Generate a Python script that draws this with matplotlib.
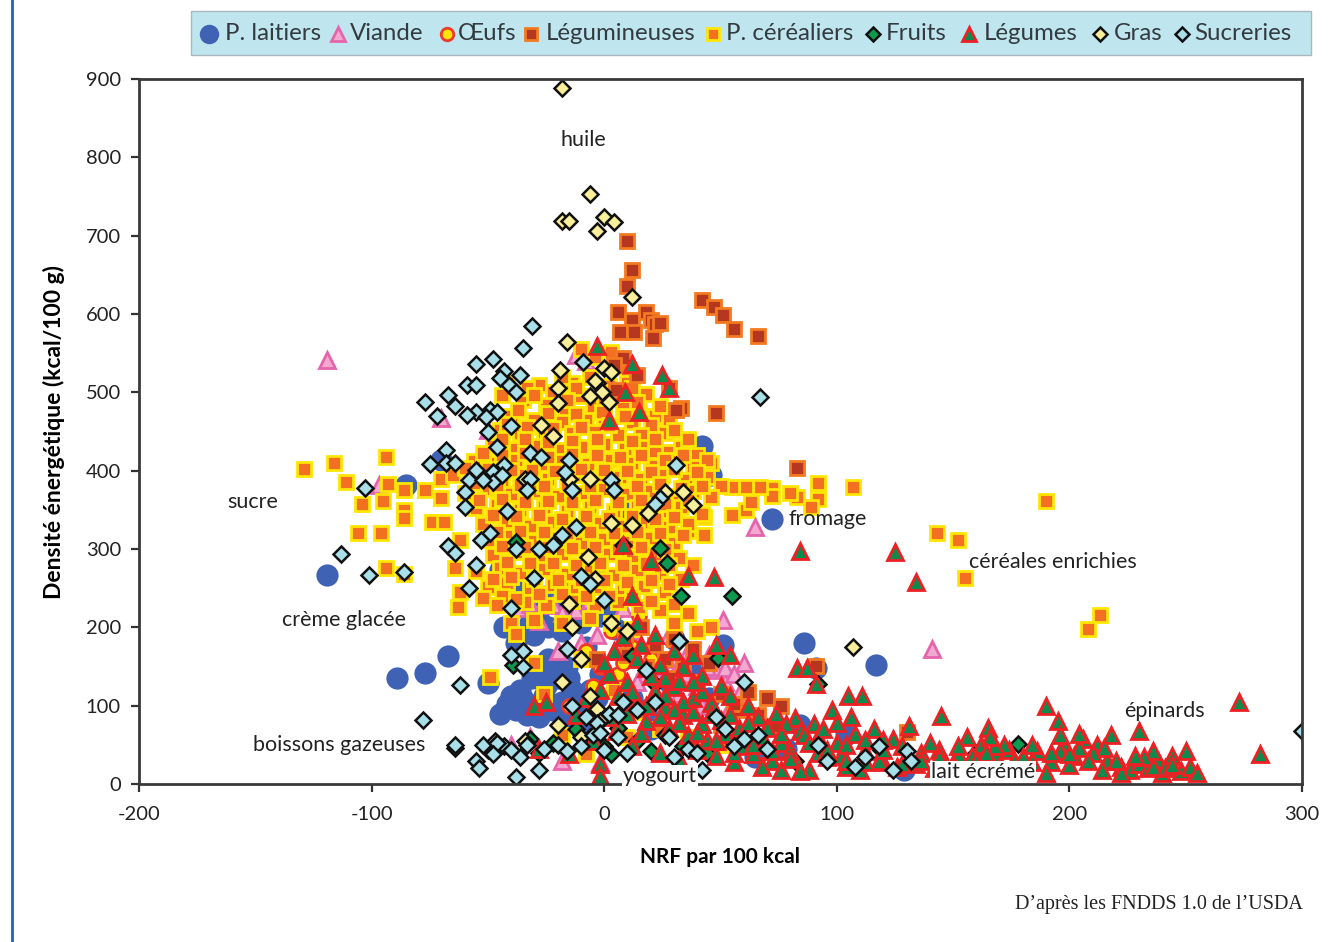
import matplotlib
matplotlib.use('Agg')
import matplotlib.pyplot as plt
from matplotlib.patches import Rectangle

plt.rcParams['axes.unicode_minus'] = False

# values, (NRF, kcal/100 g)
laitiers = [(-119,267),(-85,382),(-70,414),(42,432),(46,395),(72,338),(-67,163),(-89,135),(-77,142),(-50,129),
    (86,180),(91,148),(117,152),(129,18),(51,178),(-45,273),(-43,200),(-28,210),(-42,102),(-38,95),(-35,108),(-30,100),
    (-26,112),(-22,95),(-18,105),(-33,88),(-25,125),(-20,135),(-14,120),(-10,98),(-5,92),(-2,140),(-16,150),(-24,160),
    (-8,175),(-30,225),(-20,240),(-35,255),(9,350),(-5,325),(-15,215),(5,225),(12,110),(18,95),(28,130),(65,35),(84,75),
    (40,150),(-45,90),(-10,70),(30,185),(45,110),(-3,265),(20,70),(-20,300),(-38,180),(78,45),(104,62),
    (-40,112),(-36,120),(-31,135),(-28,148),(-22,150),(-15,135),(-12,108),(-6,120),(-3,110),(-28,85),(-18,88),(-12,80),
    (-32,205),(-24,200),(-18,195),(-10,205),(-2,215),(5,198),(-30,190),(-25,240),(-10,235)]
viande = [(-119,541),(-70,467),(65,328),(141,172),(51,209),(-12,548),(-50,452),(-97,382),(-40,340),(-33,330),(-30,320),
    (-24,305),(-16,310),(-8,315),(-37,225),(-32,230),(-22,228),(-12,222),(-28,208),(-6,235),(2,245),(8,225),(12,195),
    (22,175),(30,160),(35,140),(40,125),(48,145),(52,130),(25,150),(18,140),(38,165),(45,165),(-3,190),(-10,180),
    (-20,170),(28,190),(58,115),(54,98),(-40,50),(-18,30),(-32,60),(-2,28),(-8,540),(-48,440),(60,155),(6,170),(14,130),
    (32,115),(42,100),(-25,280),(-14,265),(-5,290),(-36,330),(-28,340),(-22,318),(-34,240),(-26,232),(-18,218),(44,150),
    (36,170),(52,148),(56,140),(30,140),(22,165)]
oeufs = [(-2,150),(6,140),(12,175),(3,195),(20,160),(-8,170),(15,215),(-15,100),(8,155),(-5,125)]
legumineuses = [(10,693),(12,656),(10,636),(42,618),(47,609),(51,599),(56,581),(66,572),(6,603),(18,602),(12,592),
    (20,592),(7,577),(13,577),(22,587),(24,589),(21,570),(8,544),(28,505),(33,480),(31,478),(48,474),(83,403),(91,151),
    (5,503),(14,522),(4,535),(9,190),(22,178),(30,185),(38,172),(45,155),(18,150),(28,135),(10,165),(62,118),(70,110),
    (76,100),(58,95),(66,88),(50,75),(74,74),(-3,160),(40,130),(130,66),(16,200),(26,160),(34,148),(50,115),(56,102)]
cereales = [(-129,402),(-116,410),(-111,386),(-94,418),(-104,358),(-106,320),(-96,320),(-94,276),(-86,268),(-95,361),
    (-93,383),(-86,375),(-86,350),(-86,340),(-77,375),(-74,334),(-69,334),(-70,390),(-70,365),(-62,312),(-64,276),
    (-62,245),(-63,226),(-49,137),(190,361),(143,320),(152,312),(155,263),(213,216),(208,198),(107,379),(92,374),
    (92,384),(92,364),(89,354),(83,366),(80,372),(72,378),(72,368),(67,379),(61,379),(55,379),(55,344),(61,350),
    (63,360),(43,341),(36,323),(43,318),(-42,512),(-28,510),(-14,512),(-6,520),(2,508),(10,515),(-22,500),(-10,495),
    (5,495),(18,498),(-35,490),(-25,484),(-17,478),(-5,482),(8,480),(15,476),(22,470),(-40,470),(-30,465),(-18,462),
    (-8,465),(0,468),(12,462),(20,458),(28,465),(-45,452),(-36,448),(-26,444),(-14,448),(-4,450),(6,446),(16,445),
    (26,448),(-48,432),(-40,428),(-30,432),(-20,426),(-10,430),(0,434),(9,428),(18,430),(27,424),(33,430),(40,420),
    (22,425),(-56,412),(-46,410),(-38,414),(-27,408),(-18,412),(-7,408),(3,414),(12,410),(20,406),(30,412),(38,405),
    (46,410),(-65,395),(-54,392),(-44,388),(-35,394),(-24,390),(-13,394),(-3,388),(7,392),(16,390),(25,394),(35,388),
    (44,392),(50,380),(-60,372),(-50,376),(-40,370),(-30,374),(-20,368),(-10,372),(0,376),(10,370),(20,374),(29,368),
    (38,374),(46,366),(-55,352),(-46,356),(-36,350),(-26,354),(-16,348),(-6,353),(4,349),(14,354),(24,348),(33,353),
    (42,345),(-52,332),(-42,336),(-32,330),(-22,334),(-12,328),(-2,333),(8,329),(18,334),(28,328),(36,332),(-50,312),
    (-40,316),(-30,310),(-20,314),(-10,308),(0,313),(10,309),(20,314),(30,308),(-48,292),(-38,296),(-28,290),(-18,294),
    (-8,288),(2,293),(12,289),(22,294),(32,288),(38,280),(-55,272),(-45,276),(-36,270),(-26,274),(-16,268),(-6,272),
    (4,267),(14,273),(24,268),(33,262),(-50,252),(-42,256),(-32,250),(-22,254),(-12,248),(-2,252),(8,247),(17,253),
    (26,245),(-52,238),(-44,240),(-34,232),(-25,228),(-14,234),(-4,228),(6,232),(15,226),(24,222),(36,218),(46,200),
    (-40,205),(-38,192),(-30,210),(-18,205),(-6,212),(3,205),(12,198),(30,205),(40,195),(-30,155),(-26,115),(-10,160),
    (-18,62),(-8,38),(-2,85),(4,120),(10,60),(16,92),(24,70),(36,60),(50,50),
    # second pass through the dense cloud
    (-10,555),(-4,545),(3,552),(10,530),(-18,520),(-33,505),(-12,505),(-2,500),(12,505),(-44,497),(-30,497),(-16,490),
    (0,488),(14,488),(24,482),(-37,478),(-24,474),(-12,472),(-1,475),(9,470),(30,452),(-42,460),(-33,456),(-22,454),
    (-10,456),(2,458),(22,440),(36,440),(-44,440),(-34,440),(-24,436),(-14,438),(-3,441),(12,438),(-52,422),(-44,420),
    (-34,422),(-24,418),(-14,421),(-3,420),(7,418),(16,420),(26,414),(34,420),(44,414),(-60,404),(-50,402),(-40,401),
    (-31,401),(-21,400),(-10,402),(0,401),(10,400),(20,398),(30,402),(40,398),(-56,384),(-46,381),(-36,382),(-26,380),
    (-16,383),(-6,380),(4,382),(14,380),(24,383),(33,378),(42,380),(-54,362),(-44,364),(-34,360),(-24,361),(-14,360),
    (-4,362),(6,360),(16,362),(26,358),(36,362),(-48,344),(-38,342),(-28,344),(-18,338),(-8,342),(2,340),(12,342),
    (22,338),(30,341),(-46,322),(-36,323),(-26,322),(-16,320),(-6,322),(4,320),(14,322),(24,320),(34,318),(-44,304),
    (-34,303),(-24,302),(-14,301),(-4,303),(6,300),(16,302),(26,300),(-42,284),(-32,282),(-22,282),(-12,280),(-2,282),
    (8,280),(18,282),(28,279),(-48,262),(-40,264),(-30,262),(-20,261),(-10,260),(0,260),(10,258),(20,260),(28,255),
    (-46,228),(-38,236),(-28,242),(-18,242),(-8,240),(2,240),(12,238),(20,234),(30,230)]
fruits = [(-38,309),(24,301),(27,282),(33,240),(55,240),(8,305),(-39,152),(12,163),(49,161),(92,128),(178,51),
    (-32,58),(-22,52),(-12,70),(-6,60),(0,48),(6,72),(14,55),(20,42),(26,62),(34,48),(44,40),(56,52),(-28,40),(3,38),
    (82,30),(118,46),(160,40),(22,128)]
legumes = [(273,105),(282,38),(230,68),(190,100),(195,80),(125,296),(134,258),(84,298),(36,266),(47,264),(-3,559),
    (12,536),(25,522),(28,505),(9,500),(15,475),(2,465),(8,305),(20,285),(12,240),(-2,25),(-2,10),(-30,100),(-25,105),
    (4,170),(8,188),(14,205),(22,190),(30,170),(38,165),(48,178),(54,165),(2,140),(10,130),(18,148),(26,135),(34,150),
    (42,138),(50,125),(-2,120),(6,112),(14,105),(22,118),(30,124),(38,110),(46,104),(54,112),(62,100),(-6,90),(2,85),
    (10,90),(18,80),(26,98),(34,88),(42,76),(50,82),(58,72),(66,85),(74,90),(82,84),(90,76),(98,95),(106,86),(100,78),
    (83,148),(87,148),(91,128),(105,112),(111,112),(131,74),(145,87),(20,108),(28,72),(36,62),(44,56),(52,64),(60,48),
    (68,60),(76,52),(84,68),(92,60),(100,52),(108,64),(116,70),(124,58),(24,40),(32,32),(40,44),(48,36),(56,28),
    (64,38),(72,30),(80,42),(88,18),(96,34),(104,22),(112,42),(120,28),(128,48),(136,40),(144,44),(152,38),(156,60),
    (162,50),(165,72),(168,38),(174,44),(180,34),(186,42),(192,28),(198,46),(202,36),(206,58),(212,50),(216,30),
    (218,62),(222,22),(226,18),(230,26),(234,20),(238,30),(240,14),(244,36),(248,16),(252,22),(255,14),(236,42),
    (250,42),(241,20),(232,34),(222,14),(215,46),(210,40),(200,24),(196,42),(190,14),(178,18),(170,24),(160,22),
    (150,26),(142,20),(134,25),(126,22),(118,30),(110,18),(102,36),(92,40),(84,16),(76,18),(68,22),(146,30),(158,36),
    (172,50),(184,50),(204,46),(-28,45),(-15,38),(-5,55),(5,68),(12,48),(-12,88),(-8,110),(0,155),(16,178),
    # second pass, dense part under the cloud
    (14,160),(24,152),(32,132),(12,118),(18,100),(26,112),(34,105),(42,118),(30,95),(38,92),(46,90),(54,88),(62,78),
    (70,72),(78,76),(86,62),(94,70),(104,50),(112,56),(120,44),(130,36),(24,85),(16,65),(32,78),(40,65),(48,55),(56,40),
    (64,50),(72,42),(80,32),(88,52),(96,44),(104,30),(112,28),(120,56),(128,26),(136,30),(144,34),(152,48),(160,30),
    (168,48),(176,30),(184,28),(192,40),(200,38),(208,30),(214,18),(220,30),(228,36),(236,22),(244,24),(166,60),(196,62),
    (204,64),(164,40),(140,52),(76,64),(38,130),(20,138)]
gras = [(-18,888),(-6,753),(-18,719),(-15,719),(-3,706),(0,724),(4,718),(107,175),(12,622),(-16,564),(0,531),(3,526),
    (-3,512),(-19,529),(-20,505),(-20,486),(-27,458),(-22,444),(-6,390),(-15,390),(-34,390),(3,333),(12,331),(19,346),
    (26,373),(34,373),(38,356),(-7,290),(-4,262),(-15,230),(-14,200),(3,205),(10,195),(-6,112),(-3,96),(-20,75),
    (-34,55),(-10,60),(-2,80),(-18,130),(-4,515),(-1,500),(-6,495),(2,488),(-10,160),(32,183)]
sucreries = [(-31,585),(-35,556),(-55,536),(-48,542),(-43,527),(-36,522),(-59,510),(-55,510),(-41,510),(-77,488),
    (-67,497),(-64,482),(-55,475),(-59,471),(-72,470),(-49,478),(-46,475),(-40,457),(-50,450),(-46,430),(-68,427),
    (-75,409),(-68,410),(-64,410),(-55,401),(-58,388),(-60,373),(-60,354),(-48,398),(-48,386),(-43,407),(-32,423),
    (-27,418),(-15,414),(-32,390),(-33,375),(-17,398),(-14,375),(3,388),(4,375),(31,407),(24,365),(22,358),(-42,348),
    (-49,320),(-53,312),(-67,304),(-64,295),(-55,280),(-58,250),(-113,294),(-101,267),(-103,378),(-86,271),(-78,82),
    (-62,127),(-64,46),(-64,50),(-55,30),(-54,20),(-50,44),(-52,50),(-47,55),(-43,48),(-38,9),(-36,35),(-28,18),
    (-26,45),(-20,50),(-16,42),(-10,48),(-5,62),(0,44),(6,60),(10,40),(-3,78),(2,90),(8,105),(-9,539),(67,494),
    (-22,305),(-30,263),(-10,265),(-6,255),(0,235),(-40,225),(-35,170),(-35,150),(-16,172),(-14,100),(32,182),
    (18,145),(-28,300),(-12,328),(-18,318),(-38,300),(22,105),(28,60),(36,45),(42,18),(48,85),(52,70),(60,130),
    (66,62),(70,45),(92,50),(96,30),(108,22),(112,35),(118,48),(130,42),(132,30),(124,18),(300,68),(-40,165),
    (-45,518),(-38,500),(-51,468),(-44,395),(-52,388),(-46,52),(-40,44),(-33,50),(-48,38),(-8,85),(-2,65),(6,88),
    (14,95),(30,35),(40,40),(56,48),(60,58)]

leg_items = [("P. laitiers", 225, 209), ("Viande", 350, 338), ("Œufs", 458, 447), ("Légumineuses", 546, 531),
    ("P. céréaliers", 726, 713), ("Fruits", 886, 873), ("Légumes", 984, 969), ("Gras", 1114, 1100), ("Sucreries", 1194, 1182)]

W, H = 1335, 942
fig = plt.figure(figsize=(W/100, H/100), dpi=100, facecolor='white')
ax = fig.add_axes([139/W, 1-784/H, (1302-139)/W, (784-79)/H])

styles = {
    "lait": dict(marker='o', ms=16, mfc='#3f62b5', mec='#3f62b5', mew=0),
    "viande": dict(marker='^', ms=11.5, mfc='#f3a8d0', mec='#e565ad', mew=2),
    "oeuf": dict(marker='o', ms=10, mfc='#ffe600', mec='#ef3a2d', mew=2),
    "legumin": dict(marker='s', ms=9.5, mfc='#b5371f', mec='#f47a20', mew=2),
    "cereal": dict(marker='s', ms=9.5, mfc='#f36f21', mec='#ffe600', mew=2),
    "fruit": dict(marker='D', ms=8, mfc='#0d9a4e', mec='#111111', mew=1.8),
    "legume": dict(marker='^', ms=11.5, mfc='#0f8a4c', mec='#ed2024', mew=2),
    "gras": dict(marker='D', ms=8, mfc='#f9ee9a', mec='#111111', mew=1.8),
    "sucre": dict(marker='D', ms=8, mfc='#a9dfe9', mec='#111111', mew=1.8),
}

def draw(points, key):
    xs = [p[0] for p in points]
    ys = [p[1] for p in points]
    ax.plot(xs, ys, ls='none', clip_on=True, **styles[key])

draw(laitiers, "lait")
draw(viande, "viande")
draw(oeufs, "oeuf")
draw(cereales, "cereal")
draw(legumineuses, "legumin")
draw(fruits, "fruit")
draw(legumes, "legume")
draw(gras, "gras")
draw(sucreries, "sucre")

ax.set_xlim(-200, 300)
ax.set_ylim(0, 900)
ax.set_xticks([-200, -100, 0, 100, 200, 300])
ax.set_yticks(range(0, 901, 100))
ax.tick_params(direction='out', length=6, width=1.6, color='#333333', labelsize=14.5, labelcolor='#222222', pad=7)
ax.tick_params(axis='x', pad=10)
plt.setp(ax.get_xticklabels() + ax.get_yticklabels(), family='Lato')
for s in ax.spines.values():
    s.set_linewidth(2)
    s.set_color('#3a3a3a')
ax.set_xlabel("NRF par 100 kcal", family='Lato', weight='bold', fontsize=15, labelpad=17)
ax.set_ylabel("Densité énergétique (kcal/100 g)", family='Lato', weight='bold', fontsize=16.5, labelpad=15)

# annotations, placed in data units
for txt, x, y in [("huile", -9, 822), ("sucre", -151, 360), ("crème glacée", -112, 210), ("boissons gazeuses", -114, 50),
                  ("fromage", 96, 338), ("céréales enrichies", 193, 283), ("épinards", 241, 93)]:
    ax.text(x, y, txt, ha='center', va='center', family='Lato', fontsize=15.5, color='#222222', zorder=6)
for txt, x, y in [("yogourt", 24, 10), ("lait écrémé", 163, 15)]:
    ax.text(x, y, txt, ha='center', va='center', family='Lato', fontsize=15.5, color='#222222', zorder=6,
            bbox=dict(fc='white', ec='none', pad=0.6))

fig.text(1303/W, 1-904/H, "D’après les FNDDS 1.0 de l’USDA", ha='right', va='center', family='Liberation Serif',
         fontsize=14.5, color='#222222')

# legend band drawn by hand on the figure
fig.add_artist(Rectangle((191/W, 1-55/H), (1311-191)/W, 44/H, transform=fig.transFigure, fc='#bfe5ef', ec='#a9b8bc', lw=1))
leg_keys = ["lait", "viande", "oeuf", "legumin", "cereal", "fruit", "legume", "gras", "sucre"]
for (name, tx, mx), key in zip(leg_items, leg_keys):
    st = dict(styles[key])
    if key == "lait":
        st['ms'] = 14
    else:
        st['ms'] = st['ms'] * 0.9
    fig.add_artist(plt.Line2D([mx/W], [1-34/H], transform=fig.transFigure, ls='none', **st))
    fig.text(tx/W, 1-34/H, name, ha='left', va='center', family='Lato', fontsize=17.3, color='#333b40')

# blue rule on the left edge
fig.add_artist(plt.Line2D([12/W, 12/W], [0, 1], transform=fig.transFigure, color='#1f66a8', lw=2))

fig.savefig("out.png", dpi=100)
